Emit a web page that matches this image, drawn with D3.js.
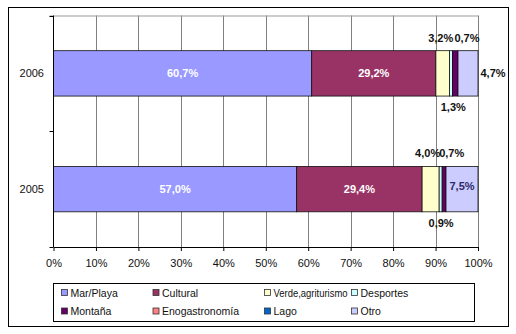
<!DOCTYPE html>
<html>
<head>
<meta charset="utf-8">
<script src="https://cdn.jsdelivr.net/npm/d3@7"></script>
<style>
  html, body { margin: 0; padding: 0; background: #fff; }
  svg { display: block; font-family: "Liberation Sans", Arial, sans-serif; }
</style>
</head>
<body>
<svg id="chart" width="516" height="334"></svg>
<script>
// Tourism motivation shares by year (%)
const years = ["2006", "2005"];
const series = ["Mar/Playa", "Cultural", "Verde,agriturismo", "Desportes",
                "Montaña", "Enogastronomía", "Lago", "Otro"];
const marPlaya      = [60.7, 57.0];
const cultural      = [29.2, 29.4];
const verde         = [3.2, 4.0];
const desportes     = [0.7, 0.7];
const montana       = [1.3, 0.9];
const enogastronomia = [0, 0];
const lago          = [0, 0];
const otro          = [4.7, 7.5];
const xTicks = [0, 0.1, 0.2, 0.3, 0.4, 0.5, 0.6, 0.7, 0.8, 0.9, 1];
const colors = ["#9999ff", "#993366", "#ffffcc", "#ccffff",
                "#660066", "#ff8080", "#0066cc", "#ccccff"];

const seriesValues = [marPlaya, cultural, verde, desportes, montana, enogastronomia, lago, otro];
const rows = years.map((yr, i) => {
  const r = { year: yr };
  series.forEach((s, k) => { r[s] = seriesValues[k][i]; });
  return r;
});

// Where each small segment's label sits relative to its segment
const labelPlacement = {
  "2006": { "Mar/Playa": { pos: "inside" }, "Cultural": { pos: "inside" },
            "Verde,agriturismo": { pos: "above", dx: -2 }, "Desportes": { pos: "above", dx: 16 },
            "Montaña": { pos: "below", dx: -2 }, "Otro": { pos: "right" } },
  "2005": { "Mar/Playa": { pos: "inside" }, "Cultural": { pos: "inside" },
            "Verde,agriturismo": { pos: "above", dx: -3 }, "Desportes": { pos: "above", dx: 11 },
            "Montaña": { pos: "below", dx: -3 }, "Otro": { pos: "inside", dy: -3, color: "#2b2b66" } }
};
const whiteLabels = ["Mar/Playa", "Cultural"];

const svg = d3.select("#chart");

// Outer chart frame
svg.append("rect").attr("x", 8.5).attr("y", 7.5).attr("width", 500).attr("height", 319)
  .attr("fill", "#fff").attr("stroke", "#000").attr("stroke-width", 1);

const plot = { left: 53.5, right: 478, top: 15.5, bottom: 247 };

const x = d3.scaleLinear().domain([0, 1]).range([plot.left, plot.right]);
const y = d3.scaleBand().domain(years).range([plot.top, plot.bottom])
  .paddingInner(0.608).paddingOuter(0.304);

// Vertical gridlines
svg.append("g").selectAll("line").data(xTicks.slice(1)).join("line")
  .attr("x1", d => Math.round(x(d)) + 0.5).attr("x2", d => Math.round(x(d)) + 0.5)
  .attr("y1", plot.top).attr("y2", plot.bottom)
  .attr("stroke", "#808080").attr("stroke-width", 1);
svg.append("line").attr("x1", plot.left - 4).attr("x2", plot.right)
  .attr("y1", plot.top + 0.5).attr("y2", plot.top + 0.5)
  .attr("stroke", "#999").attr("stroke-width", 1);

// Stacked 100% bars
const stacked = d3.stack().keys(series).offset(d3.stackOffsetExpand)(rows);

const layers = svg.append("g").selectAll("g").data(stacked).join("g")
  .attr("fill", (d, i) => colors[i]);
layers.selectAll("rect").data(d => d.filter(p => p[1] - p[0] > 0)).join("rect")
  .attr("x", d => x(d[0])).attr("width", d => x(d[1]) - x(d[0]))
  .attr("y", d => y(d.data.year)).attr("height", y.bandwidth())
  .attr("stroke", "#111").attr("stroke-width", 0.8);

// Category axis
const catAxis = svg.append("g");
catAxis.append("line").attr("x1", plot.left).attr("x2", plot.left)
  .attr("y1", plot.top).attr("y2", plot.bottom).attr("stroke", "#000");
const bandEdges = [plot.top, (plot.top + plot.bottom) / 2, plot.bottom];
catAxis.selectAll("line.tick").data(bandEdges).join("line").attr("class", "tick")
  .attr("x1", plot.left - 4).attr("x2", plot.left)
  .attr("y1", d => Math.round(d) + 0.5).attr("y2", d => Math.round(d) + 0.5)
  .attr("stroke", "#000");
catAxis.selectAll("text").data(years).join("text")
  .attr("x", 44).attr("y", d => y(d) + y.bandwidth() / 2)
  .attr("text-anchor", "end").attr("dominant-baseline", "central")
  .attr("font-size", 11).attr("fill", "#111").text(d => d);

// Value axis
const xAxis = svg.append("g").attr("transform", `translate(0,${plot.bottom})`)
  .call(d3.axisBottom(x).tickValues(xTicks).tickFormat(d3.format(".0%"))
    .tickSize(4).tickPadding(8).tickSizeOuter(0));
xAxis.select(".domain").attr("stroke", "#000");
xAxis.selectAll(".tick line").attr("stroke", "#000");
xAxis.selectAll(".tick text").attr("font-size", 11).attr("fill", "#111")
  .attr("font-family", "'Liberation Sans', Arial, sans-serif");

// Data labels
const fmt = v => d3.format(".1f")(v).replace(".", ",") + "%";
const labels = [];
stacked.forEach((layer, i) => {
  const key = layer.key;
  layer.forEach(p => {
    const yr = p.data.year;
    const place = labelPlacement[yr][key];
    if (!place || p.data[key] <= 0) return;
    const cx = (x(p[0]) + x(p[1])) / 2;
    const top = y(yr), bot = y(yr) + y.bandwidth(), mid = top + y.bandwidth() / 2;
    let lx = cx + (place.dx || 0), ly = mid + (place.dy || 0);
    if (place.pos === "above") ly = top - 13;
    if (place.pos === "below") ly = bot + 11;
    if (place.pos === "right") lx = x(1) + 15;
    const fill = place.color || (whiteLabels.includes(key) ? "#fff" : "#111");
    labels.push({ lx, ly, text: fmt(p.data[key]), fill });
  });
});
svg.append("g").selectAll("text").data(labels).join("text")
  .attr("x", d => d.lx).attr("y", d => d.ly)
  .attr("text-anchor", "middle").attr("dominant-baseline", "central")
  .attr("font-size", 11).attr("font-weight", "bold")
  .attr("fill", d => d.fill).text(d => d.text);

// Legend
const legend = svg.append("g");
legend.append("rect").attr("x", 53.5).attr("y", 283.5).attr("width", 421).attr("height", 38)
  .attr("fill", "#fff").attr("stroke", "#000");
const colX = [61, 152.5, 264, 351];
const rowY = [292.5, 311];
const items = legend.selectAll("g").data(series).join("g")
  .attr("transform", (d, i) => `translate(${colX[i % 4]},${rowY[Math.floor(i / 4)]})`);
items.append("rect").attr("x", 0.5).attr("y", -3).attr("width", 6).attr("height", 6)
  .attr("fill", (d, i) => colors[i]).attr("stroke", "#333").attr("stroke-width", 0.8);
items.append("text").attr("x", 9.5).attr("y", 0).attr("dominant-baseline", "central")
  .attr("font-size", 10.5).attr("fill", "#111").text(d => d)
  .each(function (d, i) {
    // squeeze any entry that would run into the next column
    const col = i % 4;
    const avail = (col < 3 ? colX[col + 1] - colX[col] : 120) - 13;
    if (this.getComputedTextLength() > avail) {
      d3.select(this).attr("textLength", avail).attr("lengthAdjust", "spacingAndGlyphs");
    }
  });
</script>
</body>
</html>
